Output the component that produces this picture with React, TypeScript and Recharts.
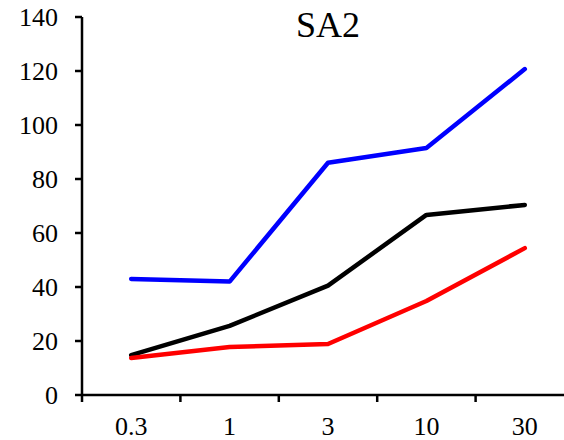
import React from "react";
import { LineChart, Line, XAxis, YAxis } from "recharts";

const categories = ["0.3", "1", "3", "10", "30"];
const blueSeries = [43, 42, 86, 91.5, 120.7];
const blackSeries = [14.8, 25.6, 40.5, 66.7, 70.4];
const redSeries = [13.7, 17.8, 18.9, 34.8, 54.4];
const yTicks = [0, 20, 40, 60, 80, 100, 120, 140];
const title = "SA2";

const data = categories.map((c, i) => ({
  x: c,
  blue: blueSeries[i],
  black: blackSeries[i],
  red: redSeries[i],
}));

const FONT = '"Liberation Serif", "Times New Roman", serif';

const XTick = (props: any) => {
  const { x, y, payload, index, width, visibleTicksCount } = props;
  const bw = width / (visibleTicksCount || categories.length);
  const axisY = y - 22;
  return (
    <g>
      <line x1={x - bw / 2} x2={x - bw / 2} y1={axisY} y2={axisY + 7} stroke="#000" strokeWidth={2.5} />
      {index === categories.length - 1 ? (
        <line x1={x + bw / 2} x2={x + bw / 2} y1={axisY} y2={axisY + 7} stroke="#000" strokeWidth={2.5} />
      ) : null}
      <text
        x={x}
        y={y}
        dy="0.71em"
        textAnchor="middle"
        fill="#000"
        fontFamily={FONT}
        fontSize={26}
        style={{ fontFamily: FONT, fontSize: 26 }}
      >
        {payload.value}
      </text>
    </g>
  );
};

const YTick = (props: any) => {
  const { x, y, payload } = props;
  return (
    <text
      x={x}
      y={y}
      dy="0.355em"
      textAnchor="end"
      fill="#000"
      fontFamily={FONT}
      fontSize={26}
      style={{ fontFamily: FONT, fontSize: 26 }}
    >
      {payload.value}
    </text>
  );
};

export default function App() {
  return (
    <div
      style={{
        position: "absolute",
        left: 0,
        top: 0,
        width: 564,
        height: 440,
        overflow: "hidden",
        background: "#fff",
        fontFamily: FONT,
      }}
    >
      <LineChart
        width={600}
        height={440}
        data={data}
        margin={{ top: 17, right: 26, bottom: 0, left: 0 }}
      >
        <XAxis
          dataKey="x"
          scale="band"
          height={45}
          axisLine={{ stroke: "#000", strokeWidth: 2.5 }}
          tickLine={false}
          tickSize={0}
          tickMargin={22}
          interval={0}
          tick={<XTick />}
        />
        <YAxis
          domain={[0, 140]}
          ticks={yTicks}
          width={82}
          tickSize={7}
          tickMargin={17}
          interval={0}
          axisLine={{ stroke: "#000", strokeWidth: 2.5 }}
          tickLine={{ stroke: "#000", strokeWidth: 2.5 }}
          tick={<YTick />}
        />
        <Line
          dataKey="blue"
          stroke="#0000ff"
          strokeWidth={4.5}
          dot={false}
          strokeLinecap="round"
          strokeLinejoin="round"
          isAnimationActive={false}
        />
        <Line
          dataKey="black"
          stroke="#000000"
          strokeWidth={4.5}
          dot={false}
          strokeLinecap="round"
          strokeLinejoin="round"
          isAnimationActive={false}
        />
        <Line
          dataKey="red"
          stroke="#ff0000"
          strokeWidth={4.5}
          dot={false}
          strokeLinecap="round"
          strokeLinejoin="round"
          isAnimationActive={false}
        />
      </LineChart>
      <div
        style={{
          position: "absolute",
          left: 82,
          width: 492,
          top: 5,
          textAlign: "center",
          fontFamily: FONT,
          fontSize: 36,
          lineHeight: "40px",
          color: "#000",
        }}
      >
        {title}
      </div>
    </div>
  );
}
